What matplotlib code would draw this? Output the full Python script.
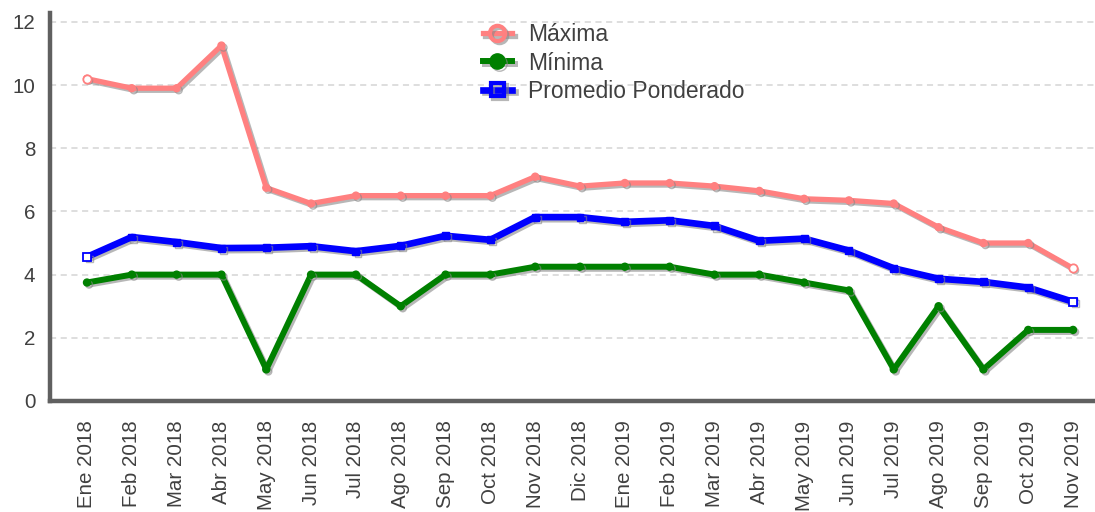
import matplotlib
matplotlib.use("Agg")
import matplotlib.pyplot as plt
import matplotlib.patheffects as pe

plt.rcParams['font.family'] = ['Liberation Sans', 'DejaVu Sans']

months = ["Ene 2018", "Feb 2018", "Mar 2018", "Abr 2018", "May 2018", "Jun 2018",
          "Jul 2018", "Ago 2018", "Sep 2018", "Oct 2018", "Nov 2018", "Dic 2018",
          "Ene 2019", "Feb 2019", "Mar 2019", "Abr 2019", "May 2019", "Jun 2019",
          "Jul 2019", "Ago 2019", "Sep 2019", "Oct 2019", "Nov 2019"]

maxima = [10.2, 9.9, 9.9, 11.25, 6.75, 6.25, 6.5, 6.5, 6.5, 6.5, 7.1, 6.8,
          6.9, 6.9, 6.8, 6.65, 6.4, 6.35, 6.25, 5.5, 5.0, 5.0, 4.2]
minima = [3.75, 4.0, 4.0, 4.0, 1.0, 4.0, 4.0, 3.0, 4.0, 4.0, 4.25, 4.25,
          4.25, 4.25, 4.0, 4.0, 3.75, 3.5, 1.0, 3.0, 1.0, 2.25, 2.25]
promedio = [4.56, 5.19, 5.03, 4.84, 4.85, 4.9, 4.74, 4.91, 5.23, 5.1, 5.82, 5.82,
            5.67, 5.72, 5.54, 5.07, 5.14, 4.76, 4.2, 3.87, 3.77, 3.59, 3.14]

text_color = "#404040"
spine_color = "#606060"

fig = plt.figure(figsize=(10.95, 5.12), dpi=100)
ax = fig.add_axes([50 / 1095, 1 - 401 / 512, 1045 / 1095, 388 / 512])

x = list(range(len(months)))
shadow = [pe.SimpleLineShadow(offset=(1.5, -1.5), shadow_color="#888888", alpha=0.6), pe.Normal()]

series = [
    ("Máxima", maxima, "#ff8080", 3.8, "o"),
    ("Mínima", minima, "#008000", 4.3, "o"),
    ("Promedio Ponderado", promedio, "#0000ff", 4.8, "s"),
]

handles = []
for name, vals, color, lw, mk in series:
    hollow = name != "Mínima"
    ax.plot(x, vals, color=color, lw=lw, solid_joinstyle="round", solid_capstyle="round",
            marker=mk, markersize=5, markerfacecolor=color, markeredgecolor=color,
            path_effects=shadow, zorder=3)
    # open markers at both ends of the series
    if hollow:
        ax.plot([x[0], x[-1]], [vals[0], vals[-1]], linestyle="none", marker=mk,
                markersize=6, markerfacecolor="white", markeredgecolor=color,
                markeredgewidth=1.3, zorder=4)
    h, = ax.plot([], [], color=color, lw=lw, marker=mk, markersize=11 if mk == "o" else 10,
                 markerfacecolor="none" if hollow else color,
                 markeredgecolor=color, markeredgewidth=3 if hollow else 1,
                 label=name, path_effects=shadow)
    handles.append(h)

ax.set_xlim(-0.825, 22.49)
ax.set_ylim(0, 12.28)
ax.set_yticks([0, 2, 4, 6, 8, 10, 12])
ax.set_xticks(x)
ax.set_xticklabels(months, rotation=90, ha="center", va="top")

ax.grid(axis="y", color="#d4d4d4", linestyle=(0, (4, 3)), linewidth=1.1)
ax.set_axisbelow(True)

for side in ("top", "right"):
    ax.spines[side].set_visible(False)
for side in ("left", "bottom"):
    ax.spines[side].set_color(spine_color)
    ax.spines[side].set_linewidth(3.2)

ax.tick_params(axis="both", length=0, labelsize=14.8, labelcolor=text_color)
ax.tick_params(axis="y", pad=10.5)
ax.tick_params(axis="x", pad=14)

leg = ax.legend(handles=handles, loc="upper left", bbox_to_anchor=(0.414, 0.973),
                frameon=False, fontsize=16.5, labelspacing=0.22, handlelength=1.3,
                handletextpad=0.7, borderpad=0, borderaxespad=0)
for t in leg.get_texts():
    t.set_color(text_color)

fig.savefig("out.png", dpi=100)
